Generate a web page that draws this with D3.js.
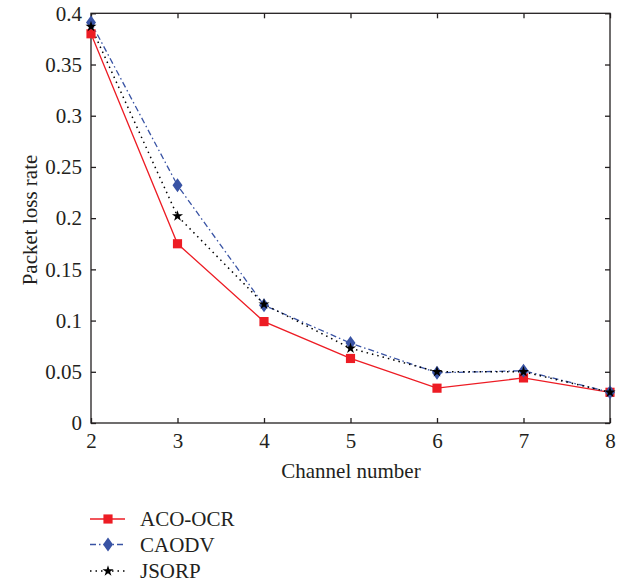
<!DOCTYPE html>
<html>
<head>
<meta charset="utf-8">
<script src="https://cdn.jsdelivr.net/npm/d3@7/dist/d3.min.js"></script>
<style>
  html, body { margin: 0; padding: 0; background: #fff; }
  svg text { font-family: "Liberation Serif", "DejaVu Serif", serif; fill: #231f20; }
</style>
</head>
<body>
<svg id="chart" width="631" height="586"></svg>
<script>
const channels = [2, 3, 4, 5, 6, 7, 8];
const acoOcr = [0.380, 0.175, 0.099, 0.063, 0.034, 0.044, 0.030];
const caodv  = [0.391, 0.232, 0.115, 0.078, 0.049, 0.051, 0.030];
const jsorp  = [0.387, 0.202, 0.116, 0.073, 0.050, 0.050, 0.030];
const seriesNames = ["ACO-OCR", "CAODV", "JSORP"];
const xTicks = [2, 3, 4, 5, 6, 7, 8];
const yTicks = [0, 0.05, 0.1, 0.15, 0.2, 0.25, 0.3, 0.35, 0.4];

const svg = d3.select("#chart");
const pLeft = 91, pRight = 610, pTop = 13.3, pBottom = 423;
const x = d3.scaleLinear().domain([2, 8]).range([pLeft, pRight]);
const y = d3.scaleLinear().domain([0, 0.4]).range([pBottom, pTop]);

const axisColor = "#231f20";
const fontFam = '"Liberation Serif", "DejaVu Serif", serif';

// frame
svg.append("rect").attr("x", pLeft).attr("y", pTop)
  .attr("width", pRight - pLeft).attr("height", pBottom - pTop)
  .attr("fill", "none").attr("stroke", axisColor).attr("stroke-width", 1.3);

// axes with inward ticks
const xAxis = svg.append("g").attr("transform", `translate(0,${pBottom})`)
  .call(d3.axisBottom(x).tickValues(xTicks).tickSize(-5).tickPadding(10).tickFormat(d3.format("d")));
const xTop = svg.append("g").attr("transform", `translate(0,${pTop})`)
  .call(d3.axisTop(x).tickValues(xTicks).tickSize(-5).tickFormat(""));
const yAxis = svg.append("g").attr("transform", `translate(${pLeft},0)`)
  .call(d3.axisLeft(y).tickValues(yTicks).tickSize(-5).tickPadding(9).tickFormat(d => d === 0 ? "0" : String(+d.toFixed(2))));
const yRight = svg.append("g").attr("transform", `translate(${pRight},0)`)
  .call(d3.axisRight(y).tickValues(yTicks).tickSize(-5).tickFormat(""));

[xAxis, xTop, yAxis, yRight].forEach(g => {
  g.select(".domain").remove();
  g.selectAll(".tick line").attr("stroke", axisColor).attr("stroke-width", 1.3);
  g.selectAll("text").attr("font-size", 21).style("font-family", fontFam).attr("fill", axisColor);
});

// axis labels
svg.append("text").attr("x", 351).attr("y", 478).attr("text-anchor", "middle")
  .attr("font-size", 21).text("Channel number");
svg.append("text").attr("transform", "translate(37,220) rotate(-90)").attr("text-anchor", "middle")
  .attr("font-size", 21).text("Packet loss rate");

const series = [
  { name: seriesNames[0], values: acoOcr, color: "#ed1c24", dash: null, width: 1.3, marker: "square" },
  { name: seriesNames[1], values: caodv, color: "#3953a4", dash: "6,3,1.5,3", width: 1.3, marker: "diamond" },
  { name: seriesNames[2], values: jsorp, color: "#000000", dash: "1.5,4", width: 1.5, marker: "star" }
];

const line = d3.line().x((d, i) => x(channels[i])).y(d => y(d));

function markerPath(type) {
  if (type === "square") return d3.symbol().type(d3.symbolSquare).size(84)();
  if (type === "diamond") return "M0,-7L5,0L0,7L-5,0Z";
  return d3.symbol().type(d3.symbolStar).size(38)();
}

series.forEach(s => {
  svg.append("path").datum(s.values).attr("d", line)
    .attr("fill", "none").attr("stroke", s.color).attr("stroke-width", s.width)
    .attr("stroke-dasharray", s.dash);
});
series.forEach(s => {
  svg.append("g").selectAll("path").data(s.values).join("path")
    .attr("transform", (d, i) => `translate(${x(channels[i])},${y(d)})`)
    .attr("d", markerPath(s.marker))
    .attr("fill", s.color);
});

// legend
const legendY = [519, 544.5, 571];
series.forEach((s, i) => {
  const g = svg.append("g").attr("transform", `translate(0,${legendY[i]})`);
  g.append("line").attr("x1", 90).attr("x2", 125).attr("y1", 0).attr("y2", 0)
    .attr("stroke", s.color).attr("stroke-width", s.width).attr("stroke-dasharray", s.dash);
  g.append("path").attr("transform", "translate(108,0)").attr("d", markerPath(s.marker)).attr("fill", s.color);
  g.append("text").attr("x", 140).attr("y", 7).attr("font-size", 21).text(s.name);
});
</script>
</body>
</html>
